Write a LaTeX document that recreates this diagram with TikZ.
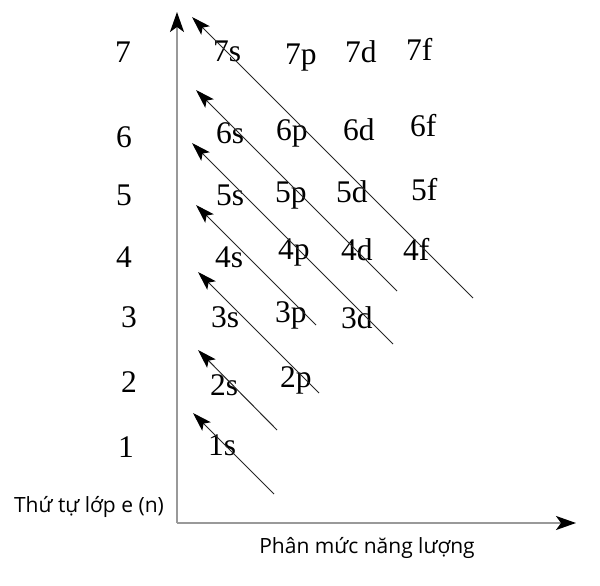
\documentclass[tikz,border=0pt]{standalone}
\usepackage{fontspec}
\setmainfont{Liberation Serif}
\newfontfamily\axfont{Open Sans}
\usetikzlibrary{arrows.meta}
\tikzset{
  orb/.style={anchor=base west, inner sep=0pt, font=\fontsize{31.5}{31.5}\selectfont},
  rowlab/.style={anchor=base, inner sep=0pt, font=\fontsize{31.5}{31.5}\selectfont},
  axtitle/.style={anchor=base, inner sep=0pt, font=\axfont\fontsize{21}{21}\selectfont},
  axis/.style={draw=gray!80, line width=2pt, -{Stealth[length=20pt,width=14pt,inset=5pt,black]}},
  diag/.style={draw=black!85, line width=1pt, -{Stealth[length=19pt,width=12pt,inset=4pt,black]}}
}
\begin{document}
\begin{tikzpicture}[x=1pt,y=-1pt]
\useasboundingbox (0,0) rectangle (600,586);
% axes
\coordinate (O) at (177,523);
\coordinate (Ytip) at (177,12);
\coordinate (Xtip) at (576,523);
\draw[axis] (O) -- (Ytip);
\draw[axis] (O) -- (Xtip);
% row labels
\node[rowlab] (r7) at (123,63) {7};
\node[rowlab] (r6) at (124,147) {6};
\node[rowlab] (r5) at (124,205) {5};
\node[rowlab] (r4) at (124,267) {4};
\node[rowlab] (r3) at (129,327) {3};
\node[rowlab] (r2) at (129,392) {2};
\node[rowlab] (r1) at (126,457) {1};
% orbitals
\node[orb] (o7s) at (213,62) {7s};
\node[orb] (o7p) at (285,65) {7p};
\node[orb] (o7d) at (345,63) {7d};
\node[orb] (o7f) at (406,61) {7f};
\node[orb] (o6s) at (216,143) {6s};
\node[orb] (o6p) at (276,140) {6p};
\node[orb] (o6d) at (343,140) {6d};
\node[orb] (o6f) at (410,136) {6f};
\node[orb] (o5s) at (216,205) {5s};
\node[orb] (o5p) at (275,202) {5p};
\node[orb] (o5d) at (336,202) {5d};
\node[orb] (o5f) at (411,200) {5f};
\node[orb] (o4s) at (215,267) {4s};
\node[orb] (o4p) at (278,259) {4p};
\node[orb] (o4d) at (341,260) {4d};
\node[orb] (o4f) at (403,260) {4f};
\node[orb] (o3s) at (211,327) {3s};
\node[orb] (o3p) at (275,322) {3p};
\node[orb] (o3d) at (341,328) {3d};
\node[orb] (o2s) at (210,395) {2s};
\node[orb] (o2p) at (280,387) {2p};
\node[orb] (o1s) at (208,455) {1s};
% diagonal arrows
\coordinate (a1t) at (274,494); \coordinate (a1h) at (193,413);
\coordinate (a2t) at (277,430); \coordinate (a2h) at (198,350);
\coordinate (a3t) at (319,393); \coordinate (a3h) at (198,272);
\coordinate (a4t) at (316,325); \coordinate (a4h) at (196,205);
\coordinate (a5t) at (393,344); \coordinate (a5h) at (192,143);
\coordinate (a6t) at (397,291); \coordinate (a6h) at (196,90);
\coordinate (a7t) at (473,298); \coordinate (a7h) at (192,17);
\foreach \i in {1,...,7} {\draw[diag] (a\i t) -- (a\i h);}
% axis titles
\node[axtitle] (ytitle) at (89,512) {Thứ tự lớp e (n)};
\node[axtitle] (xtitle) at (367,553) {Phân mức năng lượng};
\end{tikzpicture}
\end{document}
